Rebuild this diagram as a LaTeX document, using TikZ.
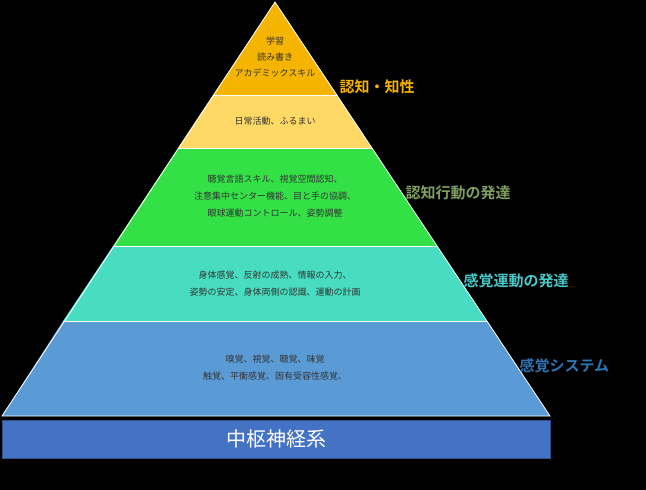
\documentclass[tikz,border=0pt]{standalone}
\usepackage{fontspec}
\setmainfont{Noto Sans CJK JP}
\newfontfamily\jpb{Noto Sans CJK JP}[BoldFont={* Bold}]
\begin{document}
\begin{tikzpicture}[x=1pt,y=-1pt,
  lay/.style={draw=white,line width=0.8pt},
  small/.style={font=\fontsize{9}{11}\selectfont,text=black!80,align=center},
  lab/.style={font=\fontsize{15}{17}\selectfont\bfseries,anchor=west}]
\fill[black] (0,0) rectangle (646,490);
\useasboundingbox (0,0) rectangle (646,490);
\definecolor{c1}{HTML}{F5B400}\definecolor{c2}{HTML}{FFD966}
\definecolor{c3}{HTML}{33E046}\definecolor{c4}{HTML}{48DDC0}
\definecolor{c5}{HTML}{5B9BD5}\definecolor{c6}{HTML}{4472C4}
\coordinate (apex) at (275,2);
\coordinate (a1) at (213,95);\coordinate (b1) at (337,95);
\coordinate (a2) at (178,148);\coordinate (b2) at (372,148);
\coordinate (a3) at (113,246);\coordinate (b3) at (437,246);
\coordinate (a4) at (63,321);\coordinate (b4) at (487,321);
\coordinate (a5) at (2,416);\coordinate (b5) at (550,416);
\fill[c1] (apex)--(b1)--(a1)--cycle;
\fill[c2] (a1)--(b1)--(b2)--(a2)--cycle;
\fill[c3] (a2)--(b2)--(b3)--(a3)--cycle;
\fill[c4] (a3)--(b3)--(b4)--(a4)--cycle;
\fill[c5] (a4)--(b4)--(b5)--(a5)--cycle;
\draw[lay] (apex)--(b5)--(a5)--cycle;
\draw[lay] (a1)--(b1) (a2)--(b2) (a3)--(b3) (a4)--(b4);
\node[draw=c6!70!black,fill=c6,minimum width=548pt,minimum height=38pt,inner sep=0,
  text=white,font=\fontsize{20}{22}\selectfont] (cns) at (276,439) {中枢神経系};
\node[small] (t1) at (275,57) {学習\\[5pt]読み書き\\[5pt]アカデミックスキル};
\node[small] (t2) at (275,121) {日常活動、ふるまい};
\node[small] (t3) at (275,196) {聴覚言語スキル、視覚空間認知、\\[6pt]注意集中センター機能、目と手の協調、\\[6pt]眼球運動コントロール、姿勢調整};
\node[small] (t4) at (275,284) {身体感覚、反射の成熟、情報の入力、\\[6pt]姿勢の安定、身体両側の認識、運動の計画};
\node[small] (t5) at (275,368) {嗅覚、視覚、聴覚、味覚\\[6pt]触覚、平衡感覚、固有受容性感覚、};
\node[lab,text=c1] (l1) at (336,87) {\jpb\bfseries 認知・知性};
\node[lab,text=HTML:7E9E5E!0,text={rgb,255:red,126;green,160;blue,96}] (l2) at (402,193) {\jpb\bfseries 認知行動の発達};
\node[lab,text={rgb,255:red,72;green,200;blue,200}] (l3) at (460,281) {\jpb\bfseries 感覚運動の発達};
\node[lab,text={rgb,255:red,46;green,117;blue,182}] (l4) at (516,366) {\jpb\bfseries 感覚システム};
\end{tikzpicture}
\end{document}
